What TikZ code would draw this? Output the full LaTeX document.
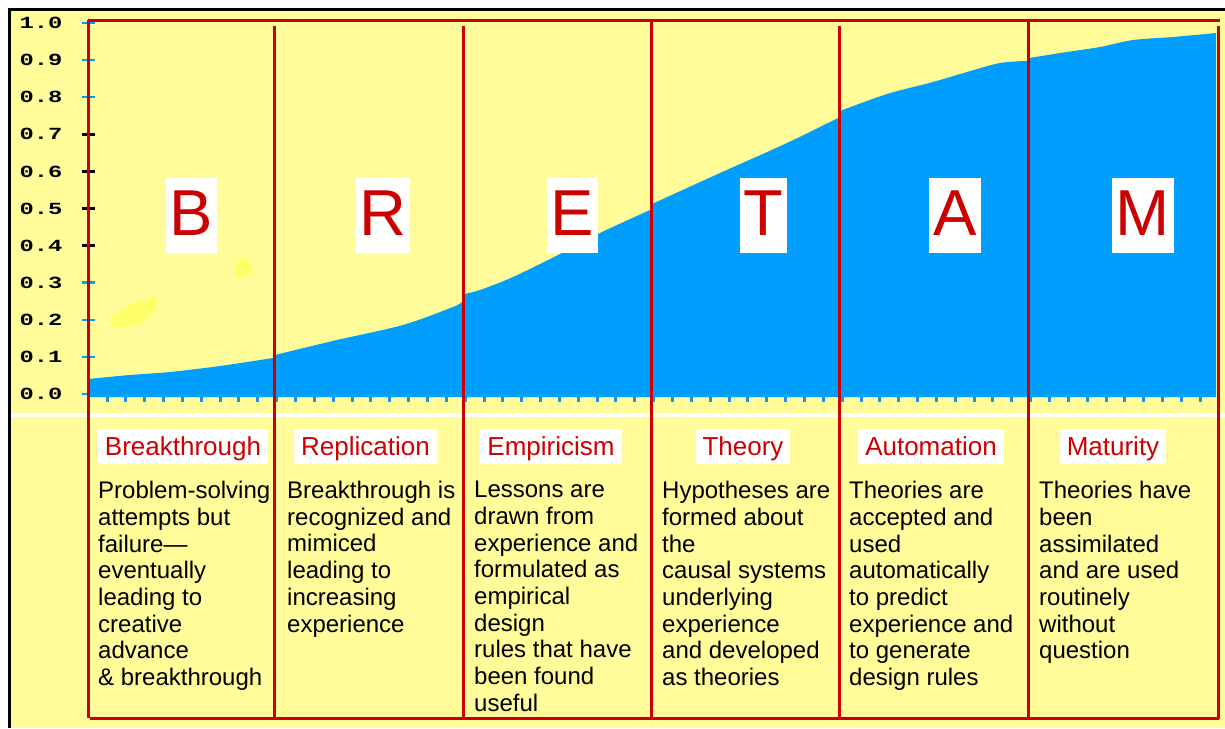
\documentclass[tikz,border=0pt]{standalone}
\usepackage{graphicx}
\usepackage{fontspec}
\setmainfont{Liberation Sans}
\setmonofont{Liberation Mono}
\definecolor{paper}{RGB}{255,252,153}
\definecolor{areablue}{RGB}{0,158,255}
\definecolor{rulered}{RGB}{204,0,0}
\definecolor{blobyellow}{RGB}{255,255,105}
\newcommand\axisnum[1]{\scalebox{1.4}[1]{\ttfamily\bfseries #1}}
\begin{document}
\begin{tikzpicture}[x=1pt,y=-1pt,
  redrule/.style={draw=rulered,line width=3pt},
  ytick/.style={line width=2.5pt},
  axislabel/.style={inner sep=0pt,font=\fontsize{17}{17}\selectfont},
  letterbox/.style={fill=white,text=rulered,anchor=base,inner xsep=4pt,inner ysep=0pt,
    text height=57pt,text depth=18pt,font=\fontsize{65}{65}\selectfont},
  phasebox/.style={fill=white,text=rulered,anchor=base,inner xsep=7pt,inner ysep=0pt,
    text height=26pt,text depth=9pt,font=\fontsize{26}{26}\selectfont},
  bodytext/.style={anchor=north west,inner sep=0pt,align=left,text=black,
    font=\fontsize{24}{26.7}\selectfont}]
\useasboundingbox (0,0) rectangle (1225,728);
% paper and frame
\fill[white] (0,0) rectangle (1225,728);
\fill[paper] (10,10) rectangle (1225,728);
\draw[line width=2.5pt] (9.5,728) -- (9.5,9.5) -- (1225,9.5);
\fill[white] (11,413) rectangle (1225,416.5);
% faint blotches
\fill[blobyellow] plot[smooth cycle] coordinates {(110,319) (122,309) (140,301) (157,298) (154,311) (144,322) (126,327) (112,326)};
\fill[blobyellow] plot[smooth cycle] coordinates {(241,258) (250,262) (250,275) (238,278) (234,271)};
% growth curve area
\fill[areablue] (88,397) -- (88,379)
  -- plot[smooth] coordinates {(88,379) (130,375) (170,372) (220,366) (273,358)}
  -- plot[smooth] coordinates {(275,355) (337,340) (403,325) (453,307) (462,302)}
  -- plot[smooth] coordinates {(464,294) (480,290) (513,277) (560,254) (600,233) (650,210)}
  -- plot[smooth] coordinates {(652,204) (720,173) (787,143) (838,118)}
  -- plot[smooth] coordinates {(840,111) (887,94) (933,82) (967,72) (1000,63) (1027,61)}
  -- plot[smooth] coordinates {(1029,58) (1067,52) (1100,47) (1133,40) (1173,37) (1216,33)}
  -- (1216,397) -- cycle;
\foreach \k in {0,...,58}
  \fill[areablue] ({107+18.85*\k-1.5},396) rectangle ++(3,6);
% y axis
\foreach \v/\lab/\c in {0/1.0/areablue,1/0.9/areablue,2/0.8/areablue,3/0.7/black,4/0.6/black,
    5/0.5/black,6/0.4/black,7/0.3/areablue,8/0.2/areablue,9/0.1/areablue,10/0.0/areablue}{
  \node[axislabel] (ylab\v) at (41,{23+37.1*\v}) {\axisnum{\lab}};
  \draw[ytick,\c] (82,{23+37.1*\v}) -- (95,{23+37.1*\v});
}
% phase frame
\draw[redrule] (88,20.5) -- (1220,20.5);
\draw[redrule] (88,19.5) -- (88,718);
\draw[redrule] (274,26) -- (274,718);
\draw[redrule] (463,26) -- (463,718);
\draw[redrule] (651,20.5) -- (651,718);
\draw[redrule] (839,26) -- (839,718);
\draw[redrule] (1028,20.5) -- (1028,718);
\draw[redrule] (1218,26) -- (1218,719);
\draw[redrule] (90,718) -- (1219,718);
% phase letters
\node[letterbox] (bigB) at (191.5,235) {B};
\node[letterbox] (bigR) at (383,235) {R};
\node[letterbox] (bigE) at (572.5,235) {E};
\node[letterbox] (bigT) at (763.5,235) {T};
\node[letterbox] (bigA) at (955,235) {A};
\node[letterbox] (bigM) at (1143,235) {M};
% phase names
\node[phasebox] (pB) at (183,455) {Breakthrough};
\node[phasebox] (pR) at (365.5,455) {Replication};
\node[phasebox] (pE) at (551,455) {Empiricism};
\node[phasebox] (pT) at (743,455) {Theory};
\node[phasebox] (pA) at (931,455) {Automation};
\node[phasebox] (pM) at (1113,455) {Maturity};
% descriptions
\node[bodytext] (dB) at (98,481) {Problem-solving\\attempts but\\failure—\\eventually\\leading to\\creative\\advance\\\& breakthrough};
\node[bodytext] (dR) at (287,481) {Breakthrough is\\recognized and\\mimiced\\leading to\\increasing\\experience};
\node[bodytext] (dE) at (474,481) {Lessons are\\drawn from\\experience and\\formulated as\\empirical\\design\\rules that have\\been found\\useful};
\node[bodytext] (dT) at (662,481) {Hypotheses are\\formed about\\the\\causal systems\\underlying\\experience\\and developed\\as theories};
\node[bodytext] (dA) at (849,481) {Theories are\\accepted and\\used\\automatically\\to predict\\experience and\\to generate\\design rules};
\node[bodytext] (dM) at (1039,481) {Theories have\\been\\assimilated\\and are used\\routinely\\without\\question};
\end{tikzpicture}
\end{document}
